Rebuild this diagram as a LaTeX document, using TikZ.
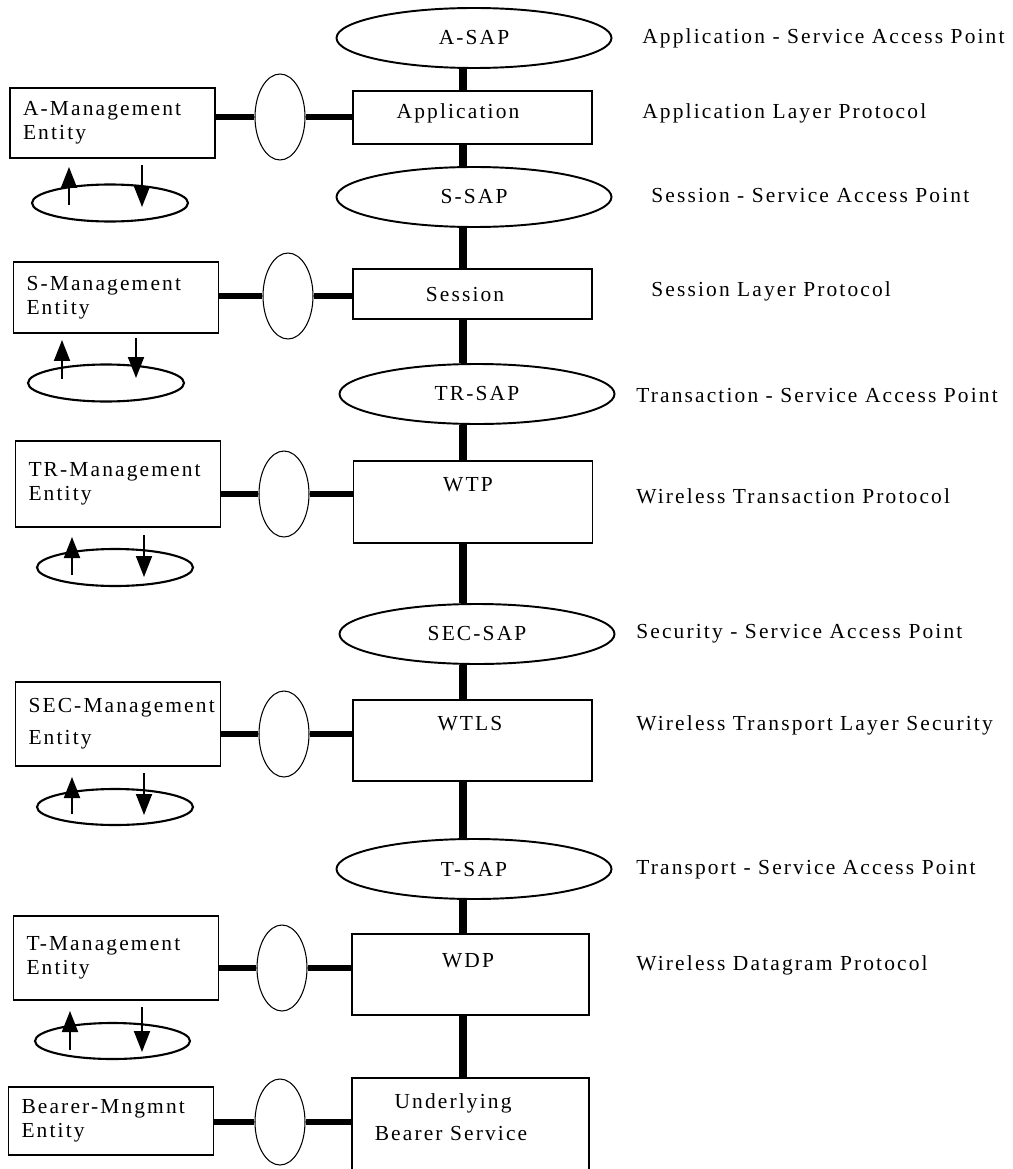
\documentclass[tikz,border=0pt]{standalone}
\usepackage{fontspec}
\setmainfont{Liberation Serif}[LetterSpace=10]
\usetikzlibrary{shapes}
\usetikzlibrary{positioning}
\usetikzlibrary{arrows.meta}
\newlength\px
\setlength\px{0.02cm}
\tikzset{
    sap/.style = {ellipse, draw=black, line width=1.1pt, minimum width=275\px, minimum height=60\px, inner sep=0pt},
    layerbox/.style = {rectangle, draw=black, line width=1.1pt, minimum width=239\px, inner sep=0pt},
    mgmt/.style = {rectangle, draw=black, line width=1.1pt, minimum width=205\px, text width=179\px, inner xsep=13\px, align=left},
    port/.style = {ellipse, draw=black, line width=0.6pt, minimum width=50\px, minimum height=86\px, inner sep=0pt},
    loopring/.style = {ellipse, draw=black, line width=1.2pt, minimum width=156\px, minimum height=37\px, inner sep=0pt},
    boxtext/.style = {anchor=base, inner sep=0pt},
    desc/.style = {anchor=base west, inner sep=0pt},
    spine/.style = {line width=4.4pt},
    link/.style = {line width=3.6pt},
    flow/.style = {-{Triangle[length=0.42cm,width=0.32cm]}, line width=1.1pt}
}

\begin{document}
\begin{tikzpicture}[x=0.02cm, y=-0.02cm, font=\fontsize{12.2}{13.8}\selectfont]
\useasboundingbox (0,0) rectangle (1013,1169);
\clip (0,0) rectangle (1013,1169);

% service access points
\node[sap] (asap)   at (474,38)  {A-SAP};
\node[sap] (ssap)   at (474,197) {S-SAP};
\node[sap] (trsap)  at (477,394) {TR-SAP};
\node[sap] (secsap) at (477,634) {SEC-SAP};
\node[sap] (tsap)   at (474,869) {T-SAP};

% protocol layers
\node[layerbox, minimum height=53\px] (app)  at (472.5,117.5) {};
\node[layerbox, minimum height=50\px] (sess) at (472.5,294)   {};
\node[layerbox, minimum height=82\px] (wtp)  at (473,502)     {};
\node[layerbox, minimum height=81\px] (wtls) at (472.5,740.5) {};
\node[layerbox, minimum height=81\px, minimum width=237\px] (wdp)   at (470.5,974.5) {};
\node[layerbox, minimum height=120\px, minimum width=237\px] (under) at (470.5,1138) {};

\node[boxtext] (apptext)  at (458,119)  {Application};
\node[boxtext] (sesstext) at (465,301)  {Session};
\node[boxtext] (wtptext)  at (468,491)  {WTP};
\node[boxtext] (wtlstext) at (470,730)  {WTLS};
\node[boxtext] (wdptext)  at (468,967)  {WDP};
\node[boxtext] (undertexta) at (453,1108) {Underlying};
\node[boxtext] (undertextb) at (451,1140) {Bearer Service};

% management entities
\node[mgmt, minimum height=70\px] (amgmt)   at (112.5,123) {A-Management\\Entity};
\node[mgmt, minimum height=71\px] (smgmt)   at (116,297.5) {S-Management\\Entity};
\node[mgmt, minimum height=86\px] (trmgmt)  at (118,484)   {TR-Management\\Entity};
\node[mgmt, minimum height=84\px] (secmgmt) at (118,724)   {\mbox{SEC-Management}\\[0.16cm] Entity};
\node[mgmt, minimum height=84\px] (tmgmt)   at (116,958)   {T-Management\\Entity};
\node[mgmt, minimum height=68\px] (bmgmt)   at (111,1121)  {Bearer-Mngmnt\\Entity};

\node[port] (aport)   at (280,117)  {};
\node[port] (sport)   at (288,296)  {};
\node[port] (trport)  at (284,494)  {};
\node[port] (secport) at (284,734)  {};
\node[port] (tport)   at (282,968)  {};
\node[port] (bport)   at (280,1122) {};

\node[loopring] (aloop)   at (110,203)    {};
\node[loopring] (sloop)   at (106,383)    {};
\node[loopring] (trloop)  at (115,567.5)  {};
\node[loopring, minimum height=36\px] (secloop) at (115,807)  {};
\node[loopring, minimum height=36\px, minimum width=155\px] (tloop) at (112.5,1041) {};

% descriptions
\node[desc] (asapdesc)   at (642,44)  {Application - Service Access Point};
\node[desc] (appdesc)    at (642,119) {Application Layer Protocol};
\node[desc] (ssapdesc)   at (651,203) {Session - Service Access Point};
\node[desc] (sessdesc)   at (651,296) {Session Layer Protocol};
\node[desc] (trsapdesc)  at (636,402) {Transaction - Service Access Point};
\node[desc] (wtpdesc)    at (636,503) {Wireless Transaction Protocol};
\node[desc] (secsapdesc) at (636,638) {Security - Service Access Point};
\node[desc] (wtlsdesc)   at (636,730) {Wireless Transport Layer Security};
\node[desc] (tsapdesc)   at (636,874) {Transport - Service Access Point};
\node[desc] (wdpdesc)    at (636,970) {Wireless Datagram Protocol};

% the stack
\coordinate (spinex) at (463,0);
\draw[spine] (asap.south -| spinex)   -- (app.north -| spinex);
\draw[spine] (app.south -| spinex)    -- (ssap.north -| spinex);
\draw[spine] (ssap.south -| spinex)   -- (sess.north -| spinex);
\draw[spine] (sess.south -| spinex)   -- (trsap.north -| spinex);
\draw[spine] (trsap.south -| spinex)  -- (wtp.north -| spinex);
\draw[spine] (wtp.south -| spinex)    -- (secsap.north -| spinex);
\draw[spine] (secsap.south -| spinex) -- (wtls.north -| spinex);
\draw[spine] (wtls.south -| spinex)   -- (tsap.north -| spinex);
\draw[spine] (tsap.south -| spinex)   -- (wdp.north -| spinex);
\draw[spine] (wdp.south -| spinex)    -- (under.north -| spinex);

% management links
\draw[link] (amgmt.east |- aport) -- (aport.west);
\draw[link] (aport.east) -- (app.west |- aport);
\draw[link] (smgmt.east |- sport) -- (sport.west);
\draw[link] (sport.east) -- (sess.west |- sport);
\draw[link] (trmgmt.east |- trport) -- (trport.west);
\draw[link] (trport.east) -- (wtp.west |- trport);
\draw[link] (secmgmt.east |- secport) -- (secport.west);
\draw[link] (secport.east) -- (wtls.west |- secport);
\draw[link] (tmgmt.east |- tport) -- (tport.west);
\draw[link] (tport.east) -- (wdp.west |- tport);
\draw[link] (bmgmt.east |- bport) -- (bport.west);
\draw[link] (bport.east) -- (under.west |- bport);

% up and down
\draw[flow] ([shift={(-41,2)}]aloop.center) -- ([shift={(-41,-36)}]aloop.center);
\draw[flow] ([shift={(32,-38)}]aloop.center) -- ([shift={(32,4)}]aloop.center);
\draw[flow] ([shift={(-44,-4)}]sloop.center) -- ([shift={(-44,-43)}]sloop.center);
\draw[flow] ([shift={(30,-45)}]sloop.center) -- ([shift={(30,-5)}]sloop.center);
\draw[flow] ([shift={(-43,7.5)}]trloop.center) -- ([shift={(-43,-30.5)}]trloop.center);
\draw[flow] ([shift={(29,-32.5)}]trloop.center) -- ([shift={(29,9.5)}]trloop.center);
\draw[flow] ([shift={(-43,7)}]secloop.center) -- ([shift={(-43,-30)}]secloop.center);
\draw[flow] ([shift={(29,-34)}]secloop.center) -- ([shift={(29,8)}]secloop.center);
\draw[flow] ([shift={(-42.5,9)}]tloop.center) -- ([shift={(-42.5,-30)}]tloop.center);
\draw[flow] ([shift={(29.5,-34)}]tloop.center) -- ([shift={(29.5,11)}]tloop.center);
\end{tikzpicture}
\end{document}
